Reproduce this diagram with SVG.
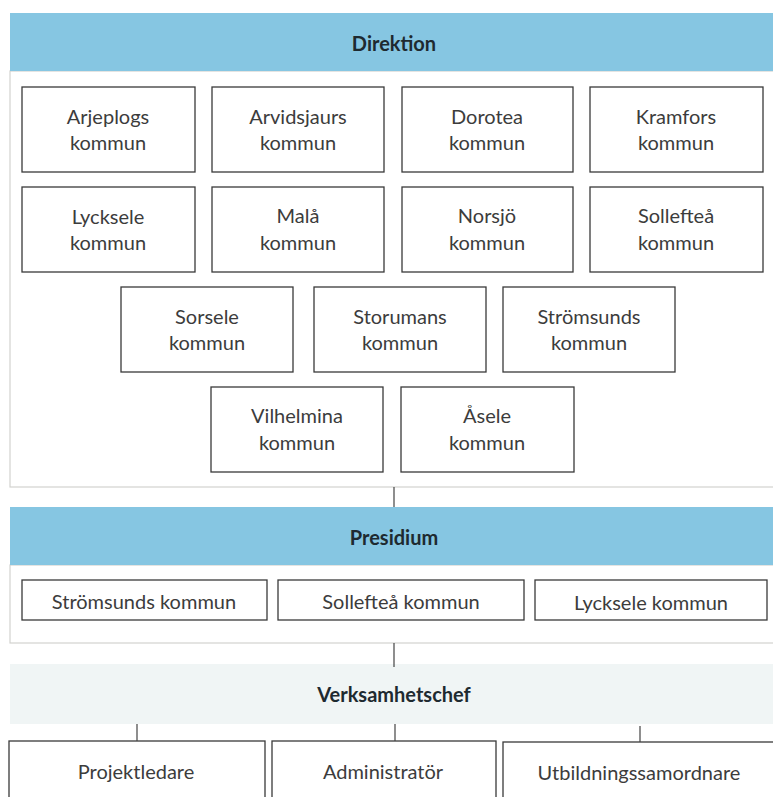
<svg xmlns="http://www.w3.org/2000/svg" width="773" height="797" viewBox="0 0 773 797">
<style>
.band{fill:#86c6e2}
.pale{fill:#f0f5f5}
.cont{fill:#ffffff;stroke:#d2d2cf;stroke-width:1.2}
.box{fill:#ffffff;stroke:#3a3a3a;stroke-width:1.3}
.t{font-family:Lato,"Open Sans","Liberation Sans",sans-serif;font-size:20px;fill:#3c3c3c;text-anchor:middle}
.h{font-family:Lato,"Open Sans","Liberation Sans",sans-serif;font-size:20px;font-weight:bold;fill:#1e2a30;text-anchor:middle}
.ln{stroke:#444;stroke-width:1.2;fill:none}
</style>
<rect width="773" height="797" fill="#ffffff"/>
<g id="direktion">
<rect class="cont" x="10" y="71" width="770" height="416"/>
<rect class="band" x="10" y="13" width="770" height="58"/>
<text class="h" x="394" y="51">Direktion</text>
</g>
<g id="arjeplogs"><rect class="box" x="22" y="87" width="173" height="85"/><text class="t" x="108" y="124">Arjeplogs</text><text class="t" x="108" y="150">kommun</text></g>
<g id="arvidsjaurs"><rect class="box" x="212" y="87" width="172" height="85"/><text class="t" x="298" y="124">Arvidsjaurs</text><text class="t" x="298" y="150">kommun</text></g>
<g id="dorotea"><rect class="box" x="402" y="87" width="171" height="85"/><text class="t" x="487" y="124">Dorotea</text><text class="t" x="487" y="150">kommun</text></g>
<g id="kramfors"><rect class="box" x="590" y="87" width="173" height="85"/><text class="t" x="676" y="124">Kramfors</text><text class="t" x="676" y="150">kommun</text></g>
<g id="lycksele"><rect class="box" x="22" y="187" width="173" height="85"/><text class="t" x="108" y="224">Lycksele</text><text class="t" x="108" y="250">kommun</text></g>
<g id="mala"><rect class="box" x="212" y="187" width="172" height="85"/><text class="t" x="298" y="223">Malå</text><text class="t" x="298" y="250">kommun</text></g>
<g id="norsjo"><rect class="box" x="402" y="187" width="171" height="85"/><text class="t" x="487" y="223">Norsjö</text><text class="t" x="487" y="250">kommun</text></g>
<g id="solleftea"><rect class="box" x="590" y="187" width="173" height="85"/><text class="t" x="676" y="223">Sollefteå</text><text class="t" x="676" y="250">kommun</text></g>
<g id="sorsele"><rect class="box" x="121" y="287" width="172" height="85"/><text class="t" x="207" y="324">Sorsele</text><text class="t" x="207" y="350">kommun</text></g>
<g id="storumans"><rect class="box" x="314" y="287" width="172" height="85"/><text class="t" x="400" y="324">Storumans</text><text class="t" x="400" y="350">kommun</text></g>
<g id="stromsunds"><rect class="box" x="503" y="287" width="172" height="85"/><text class="t" x="589" y="324">Strömsunds</text><text class="t" x="589" y="350">kommun</text></g>
<g id="vilhelmina"><rect class="box" x="211" y="387" width="172" height="85"/><text class="t" x="297" y="423">Vilhelmina</text><text class="t" x="297" y="450">kommun</text></g>
<g id="asele"><rect class="box" x="401" y="387" width="173" height="85"/><text class="t" x="487" y="423">Åsele</text><text class="t" x="487" y="450">kommun</text></g>
<g id="presidium">
<rect class="cont" x="10" y="565" width="770" height="78"/>
<rect class="band" x="10" y="507" width="770" height="58"/>
<text class="h" x="394" y="545">Presidium</text>
</g>
<g id="p-stromsunds"><rect class="box" x="22" y="580" width="245" height="40"/><text class="t" x="144" y="609">Strömsunds kommun</text></g>
<g id="p-solleftea"><rect class="box" x="278" y="580" width="246" height="40"/><text class="t" x="401" y="609">Sollefteå kommun</text></g>
<g id="p-lycksele"><rect class="box" x="535" y="580" width="232" height="40"/><text class="t" x="651" y="610">Lycksele kommun</text></g>
<g id="verksamhetschef">
<rect class="pale" x="10" y="664" width="770" height="60"/>
<text class="h" x="394" y="702">Verksamhetschef</text>
</g>
<g id="projektledare"><rect class="box" x="9" y="741" width="256" height="70"/><text class="t" x="136" y="779">Projektledare</text></g>
<g id="administrator"><rect class="box" x="272" y="741" width="224" height="70"/><text class="t" x="383" y="779">Administratör</text></g>
<g id="utbildningssamordnare"><rect class="box" x="503" y="742" width="280" height="70"/><text class="t" x="639" y="780">Utbildningssamordnare</text></g>
<g id="connectors">
<line class="ln" x1="394" y1="487" x2="394" y2="507"/>
<line class="ln" x1="394" y1="643" x2="394" y2="667"/>
<line class="ln" x1="137" y1="724" x2="137" y2="741"/>
<line class="ln" x1="395" y1="724" x2="395" y2="741"/>
<line class="ln" x1="640" y1="726" x2="640" y2="742"/>
</g>
</svg>
